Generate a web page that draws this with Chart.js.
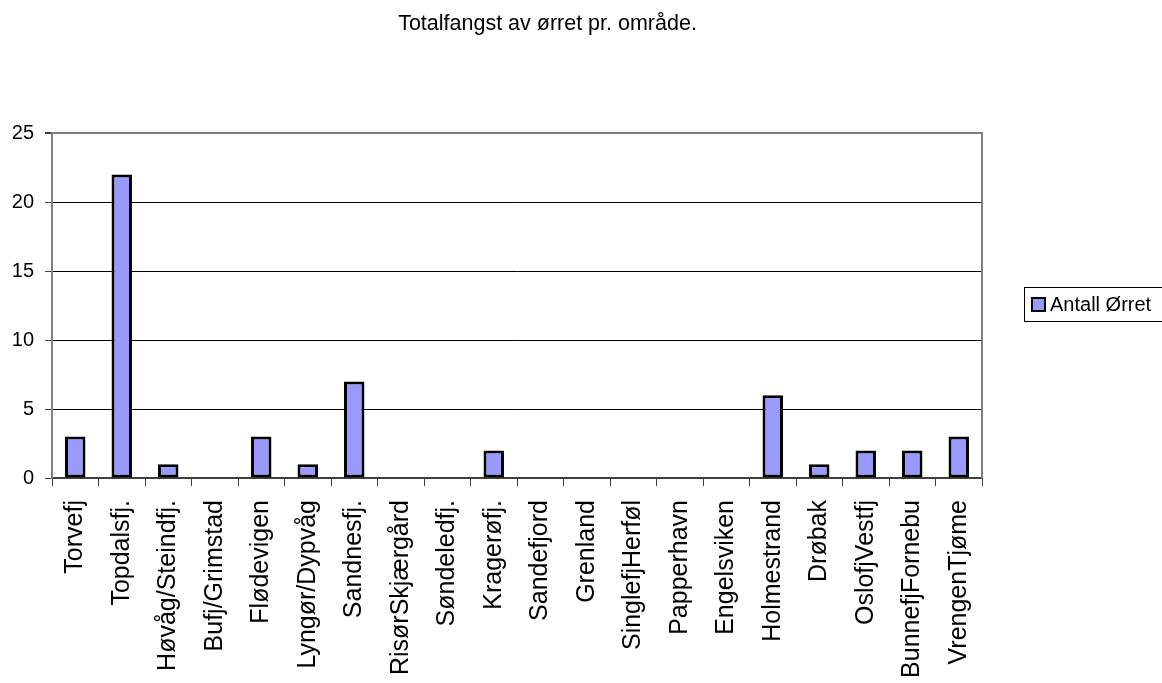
<!DOCTYPE html>
<html>
<head>
<meta charset="utf-8">
<script src="https://cdn.jsdelivr.net/npm/chart.js@4/dist/chart.umd.min.js"></script>
<style>
  html, body { margin: 0; padding: 0; background: #ffffff; }
  #wrap { width: 1162px; height: 683px; }
</style>
</head>
<body>
<div id="wrap"><canvas id="c" width="1162" height="683"></canvas></div>
<script>
const chartTitle = "Totalfangst av ørret pr. område.";
const seriesLabel = "Antall Ørret";
const categories = [
  "Torvefj", "Topdalsfj.", "Høvåg/Steindfj.", "Bufj/Grimstad", "Flødevigen",
  "Lyngør/Dypvåg", "Sandnesfj.", "RisørSkjærgård", "Søndeledfj.", "Kragerøfj.",
  "Sandefjord", "Grenland", "SinglefjHerføl", "Papperhavn", "Engelsviken",
  "Holmestrand", "Drøbak", "OslofjVestfj", "BunnefjFornebu", "VrengenTjøme"
];
const antallOrret = [3, 22, 1, 0, 3, 1, 7, 0, 0, 2, 0, 0, 0, 0, 0, 6, 1, 2, 2, 3];
const yTicks = [0, 5, 10, 15, 20, 25];

const FONT = '"Liberation Sans", Arial, sans-serif';
const BAR_FILL = '#9999FF';

const frameTitleLegend = {
  id: 'frameTitleLegend',
  afterDatasetsDraw(chart) {
    const ctx = chart.ctx;
    const a = chart.chartArea;
    ctx.save();
    ctx.strokeStyle = '#808080';
    ctx.lineWidth = 2;
    ctx.beginPath();
    ctx.moveTo(a.left, a.top);
    ctx.lineTo(a.right, a.top);
    ctx.lineTo(a.right, a.bottom);
    ctx.stroke();
    ctx.restore();
  },
  afterDraw(chart) {
    const ctx = chart.ctx;
    const ds = chart.data.datasets[0];
    ctx.save();
    // title
    ctx.fillStyle = '#000000';
    ctx.font = '21.5px ' + FONT;
    ctx.textAlign = 'center';
    ctx.textBaseline = 'alphabetic';
    ctx.fillText(chartTitle, 547.5, 30);
    // legend frame
    ctx.strokeStyle = '#000000';
    ctx.lineWidth = 1;
    ctx.strokeRect(1024.5, 287.5, 160, 34);
    // legend swatch
    ctx.fillStyle = ds.backgroundColor;
    ctx.fillRect(1032, 298, 13, 13);
    ctx.strokeStyle = '#000000';
    ctx.lineWidth = 2;
    ctx.strokeRect(1032, 298, 13, 13);
    ctx.fillStyle = '#000000';
    ctx.font = '20px ' + FONT;
    ctx.textBaseline = 'middle';
    ctx.textAlign = 'left';
    ctx.fillText(ds.label, 1050, 305);
    ctx.restore();
  }
};

new Chart(document.getElementById('c'), {
  type: 'bar',
  data: {
    labels: categories,
    datasets: [{
      label: seriesLabel,
      data: antallOrret,
      backgroundColor: BAR_FILL,
      borderColor: '#000000',
      borderWidth: 3,
      borderSkipped: false,
      barPercentage: 0.44,
      categoryPercentage: 1.0
    }]
  },
  options: {
    responsive: false,
    animation: false,
    devicePixelRatio: 1,
    layout: { padding: { left: 0, right: 180, top: 133, bottom: 0 } },
    plugins: {
      legend: { display: false },
      tooltip: { enabled: false },
      title: { display: false }
    },
    scales: {
      x: {
        offset: true,
        grid: {
          offset: true,
          drawOnChartArea: false,
          drawTicks: true,
          tickLength: 8,
          tickColor: '#404040'
        },
        border: { display: true, color: '#404040', width: 2 },
        ticks: {
          autoSkip: false,
          maxRotation: 90,
          minRotation: 90,
          padding: 14,
          color: '#000000',
          font: { family: FONT, size: 25 }
        },
        afterFit(scale) { scale.height = 205; }
      },
      y: {
        min: 0,
        max: 25,
        afterBuildTicks(scale) { scale.ticks = yTicks.map(v => ({ value: v })); },
        grid: {
          color: (c) => (c.tick && c.tick.value === 25) ? '#808080' : '#000000',
          lineWidth: (c) => (c.tick && c.tick.value === 25) ? 2 : 1,
          drawTicks: true,
          tickLength: 7,
          tickColor: '#404040'
        },
        border: { display: true, color: '#808080', width: 2 },
        ticks: {
          padding: 11,
          color: '#000000',
          font: { family: FONT, size: 20 }
        },
        afterFit(scale) { scale.width = 52; }
      }
    }
  },
  plugins: [frameTitleLegend]
});
</script>
</body>
</html>
